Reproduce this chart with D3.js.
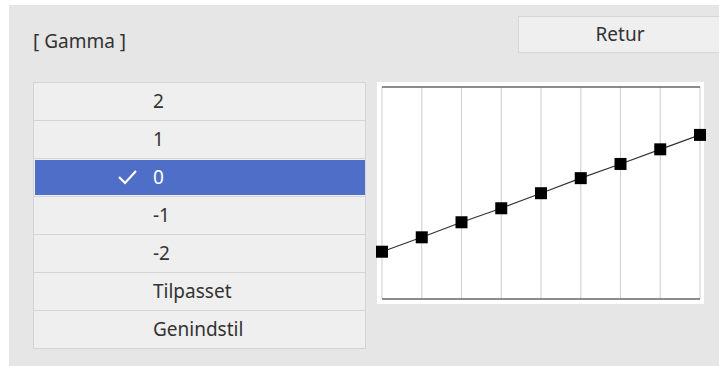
<!DOCTYPE html>
<html>
<head>
<meta charset="utf-8">
<script src="https://cdn.jsdelivr.net/npm/d3@7"></script>
<style>
  body { margin: 0; background: #fff; }
  svg text { font-family: "Noto Sans", "Open Sans", sans-serif; }
</style>
</head>
<body>
<svg id="gamma-screen" width="719" height="366"></svg>
<script>
// menu entries, selected one is "0"
const menuItems = ["2", "1", "0", "-1", "-2", "Tilpasset", "Genindstil"];
const selectedItem = "0";
// gamma curve points (0-100 output level), one per grid column
const curveSteps = [0, 1, 2, 3, 4, 5, 6, 7, 8];
const curveValues = [22.3, 29.1, 36.2, 42.8, 49.9, 57.0, 63.7, 70.6, 77.4];

const svg = d3.select("#gamma-screen");

// panel background
svg.append("rect")
    .attr("x", 9).attr("y", 5)
    .attr("width", 710).attr("height", 361)
    .style("fill", "#e6e6e6");

svg.append("text")
    .attr("x", 33).attr("y", 48)
    .style("font-size", "19px")
    .style("fill", "#333")
    .text("[ Gamma ]");

// Retur button
svg.append("rect")
    .attr("x", 518.5).attr("y", 16.5)
    .attr("width", 210).attr("height", 36)
    .style("fill", "#efefef")
    .style("stroke", "#d6d6d6");
svg.append("text")
    .attr("x", 620).attr("y", 41)
    .attr("text-anchor", "middle")
    .style("font-size", "19px")
    .style("fill", "#333")
    .text("Retur");

// option list
const rowScale = d3.scaleBand()
    .domain(menuItems)
    .range([82, 348]);

const rows = svg.selectAll("g.row")
    .data(menuItems)
    .enter().append("g")
    .attr("class", "row")
    .attr("transform", d => "translate(0," + rowScale(d) + ")");

rows.append("rect")
    .attr("x", 33.5).attr("y", 0.5)
    .attr("width", 332).attr("height", rowScale.bandwidth())
    .style("fill", "#efefef")
    .style("stroke", "#d4d4d4");

rows.filter(d => d === selectedItem).append("rect")
    .attr("x", 35).attr("y", 2)
    .attr("width", 330).attr("height", rowScale.bandwidth() - 3)
    .style("fill", "#4f6ec8");

rows.append("text")
    .attr("x", 153)
    .attr("y", rowScale.bandwidth() / 2 + 7)
    .style("font-size", "19px")
    .style("fill", d => d === selectedItem ? "#fff" : "#333")
    .text(d => d);

rows.filter(d => d === selectedItem).append("path")
    .attr("d", "M119,19 L125,25 L136,13")
    .style("fill", "none")
    .style("stroke", "#fff")
    .style("stroke-width", 2.2);

// gamma chart
svg.append("rect")
    .attr("x", 377).attr("y", 82)
    .attr("width", 327).attr("height", 222)
    .style("fill", "#fff");

const x = d3.scaleLinear().domain([0, 8]).range([382, 700]);
const y = d3.scaleLinear().domain([0, 100]).range([299, 87]);

svg.append("g")
    .selectAll("line")
    .data(curveSteps)
    .enter().append("line")
    .attr("x1", d => x(d)).attr("x2", d => x(d))
    .attr("y1", y(100)).attr("y2", y(0))
    .style("stroke", "#d4d4d4")
    .style("stroke-width", 1.2);

[0, 100].forEach(v => {
    svg.append("line")
        .attr("x1", x(0)).attr("x2", x(8))
        .attr("y1", y(v)).attr("y2", y(v))
        .style("stroke", "#666")
        .style("stroke-width", 1.6);
});

const line = d3.line()
    .x((d, i) => x(curveSteps[i]))
    .y(d => y(d));

svg.append("path")
    .datum(curveValues)
    .attr("d", line)
    .style("fill", "none")
    .style("stroke", "#333")
    .style("stroke-width", 1.2);

svg.selectAll("rect.marker")
    .data(curveValues)
    .enter().append("rect")
    .attr("class", "marker")
    .attr("x", (d, i) => x(curveSteps[i]) - 6)
    .attr("y", d => y(d) - 6)
    .attr("width", 12).attr("height", 12)
    .style("fill", "#000");
</script>
</body>
</html>
